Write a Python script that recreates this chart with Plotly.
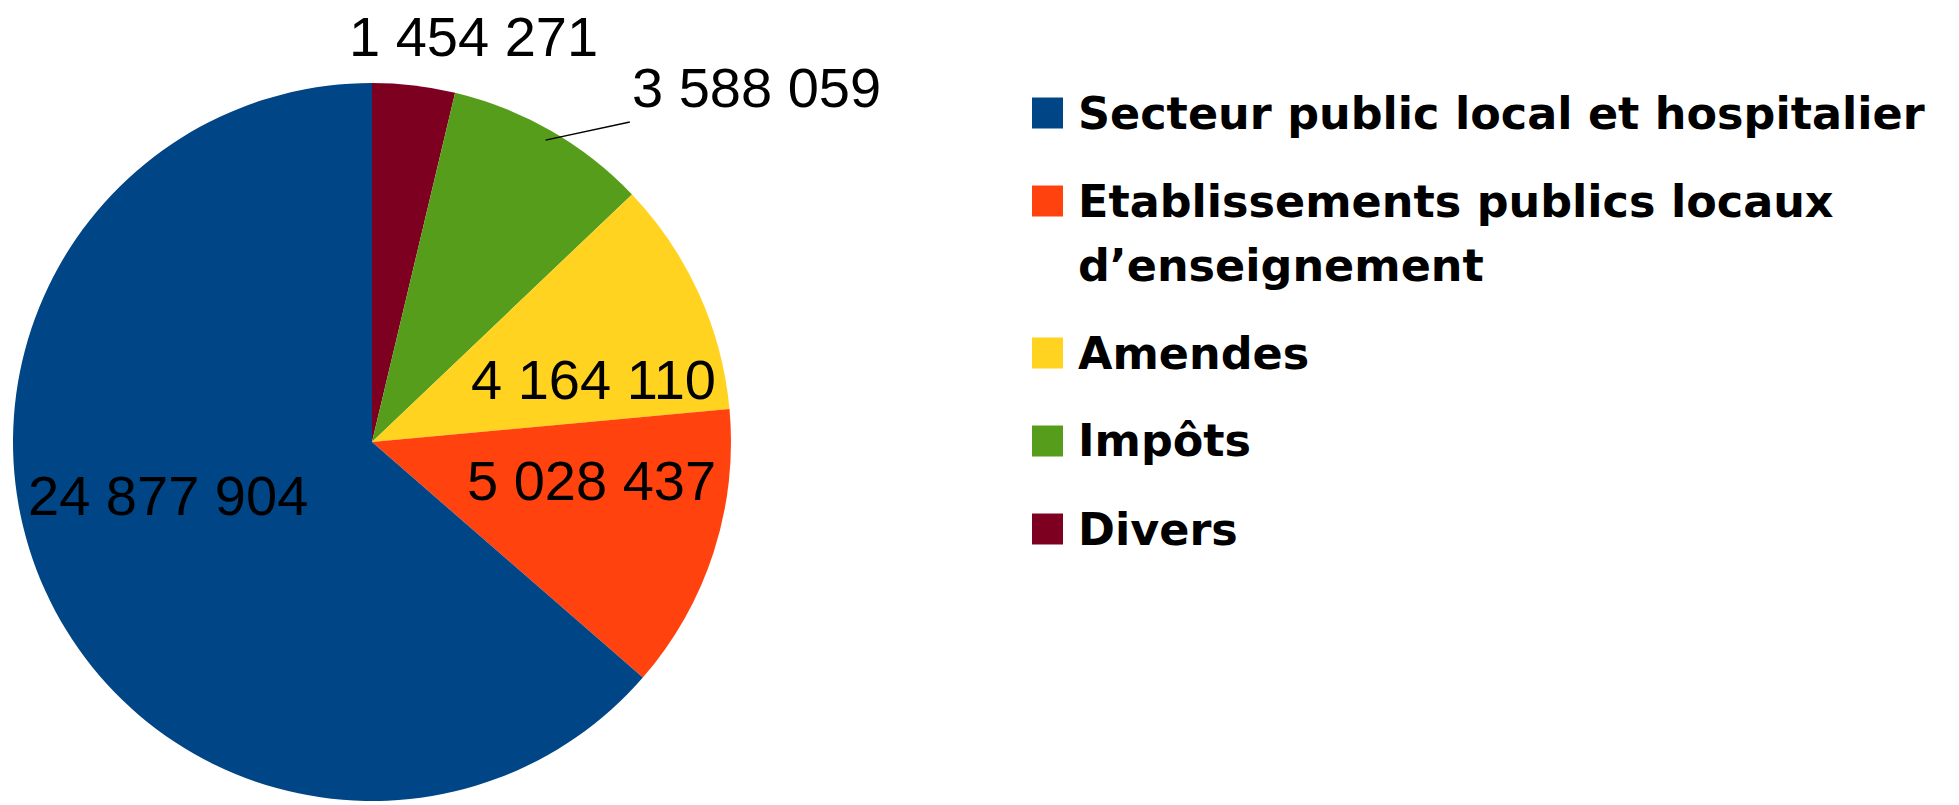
import math
import plotly.graph_objects as go

# ---- data ----
categories = [
    "Secteur public local et hospitalier",
    "Etablissements publics locaux d’enseignement",
    "Amendes",
    "Impôts",
    "Divers",
]
legend_labels = [
    "Secteur public local et hospitalier",
    "Etablissements publics locaux<br>d’enseignement",
    "Amendes",
    "Impôts",
    "Divers",
]
values = [24877904, 5028437, 4164110, 3588059, 1454271]
colors = ["#004586", "#ff420e", "#ffd320", "#579d1c", "#7e0021"]
label_modes = ["inside", "inside", "inside", "outside", "outside"]
connectors = [False, False, False, True, False]

W, H = 1959, 805
dom_x = [0.00663, 0.37315]
dom_y = [0.00497, 0.89689]

# slices drawn clockwise from 12 o'clock in reverse order (Divers first)
order = list(range(len(values)))[::-1]

fig = go.Figure(
    go.Pie(
        labels=[categories[i] for i in order],
        values=[values[i] for i in order],
        sort=False,
        direction="clockwise",
        rotation=0,
        marker=dict(colors=[colors[i] for i in order], line=dict(width=0)),
        textinfo="none",
        domain=dict(x=dom_x, y=dom_y),
        automargin=False,
        showlegend=False,
        hoverinfo="label+value+percent",
    )
)

# ---- value labels, placed from the slice angles ----
cx = W * (dom_x[0] + dom_x[1]) / 2
cy = H * (1 - (dom_y[0] + dom_y[1]) / 2)
R = min(W * (dom_x[1] - dom_x[0]), H * (dom_y[1] - dom_y[0])) / 2

num_font = dict(family="Liberation Sans, Arial, sans-serif", size=56, color="black")
total = float(sum(values))
annotations, shapes = [], []
cum = 0.0
for i in order:
    frac = values[i] / total
    mid = (cum + frac / 2) * 2 * math.pi
    cum += frac
    dx, dy = math.sin(mid), -math.cos(mid)
    txt = f"{values[i]:,}".replace(",", " ")
    if label_modes[i] == "inside":
        # outer edge of the text kept near the rim, on the slice's side
        side = 1 if dx > 0 else -1
        px, py = cx + side * 0.965 * R, cy + dy * 0.39 * R - 5
        xanchor = "right" if side > 0 else "left"
    else:
        px, py = cx + dx * 1.14 * R + 0.15 * R, cy + dy * 1.14 * R
        xanchor = "center" if abs(dx) < 0.3 else ("left" if dx > 0 else "right")
        if connectors[i]:
            ex, ey = cx + dx * 0.97 * R, cy + dy * 0.97 * R
            shapes.append(dict(
                type="line", xref="paper", yref="paper",
                x0=ex / W, y0=1 - ey / H, x1=px / W, y1=1 - (py + 0.62 * num_font["size"]) / H,
                line=dict(color="black", width=1.5),
            ))
    annotations.append(dict(
        text=txt, xref="paper", yref="paper",
        x=px / W, y=1 - py / H, xanchor=xanchor, yanchor="middle",
        height=num_font["size"], valign="middle",
        showarrow=False, font=num_font,
    ))

# ---- custom legend (colour keys + bold text) ----
legend_font = dict(family="DejaVu Sans, Verdana, sans-serif", size=44.5, color="black")
x_key0, x_key1, x_text = 1032, 1063, 1076
y_first, item_step, line_step = 113, 88, 64
key_half = 15.5
extra = 0
for k, (lab, col) in enumerate(zip(legend_labels, colors)):
    lines = lab.split("<br>")
    yc = y_first + item_step * k + line_step * extra
    shapes.append(dict(
        type="rect", xref="paper", yref="paper",
        x0=x_key0 / W, x1=x_key1 / W,
        y0=1 - (yc + key_half) / H, y1=1 - (yc - key_half) / H,
        fillcolor=col, line=dict(width=0),
    ))
    for j, line in enumerate(lines):
        annotations.append(dict(
            text="<b>" + line + "</b>", xref="paper", yref="paper",
            x=x_text / W, xanchor="left",
            y=1 - (yc + j * line_step) / H, yanchor="middle",
            align="left", showarrow=False, font=legend_font,
        ))
    extra += len(lines) - 1

fig.update_layout(
    width=W, height=H,
    margin=dict(l=0, r=0, t=0, b=0),
    paper_bgcolor="white", plot_bgcolor="white",
    separators=", ",
    showlegend=False,
    shapes=shapes,
    annotations=annotations,
)

fig.write_html(
    "out.html",
    config={"displayModeBar": False},
    post_script="document.body.style.margin='0px';",
)
